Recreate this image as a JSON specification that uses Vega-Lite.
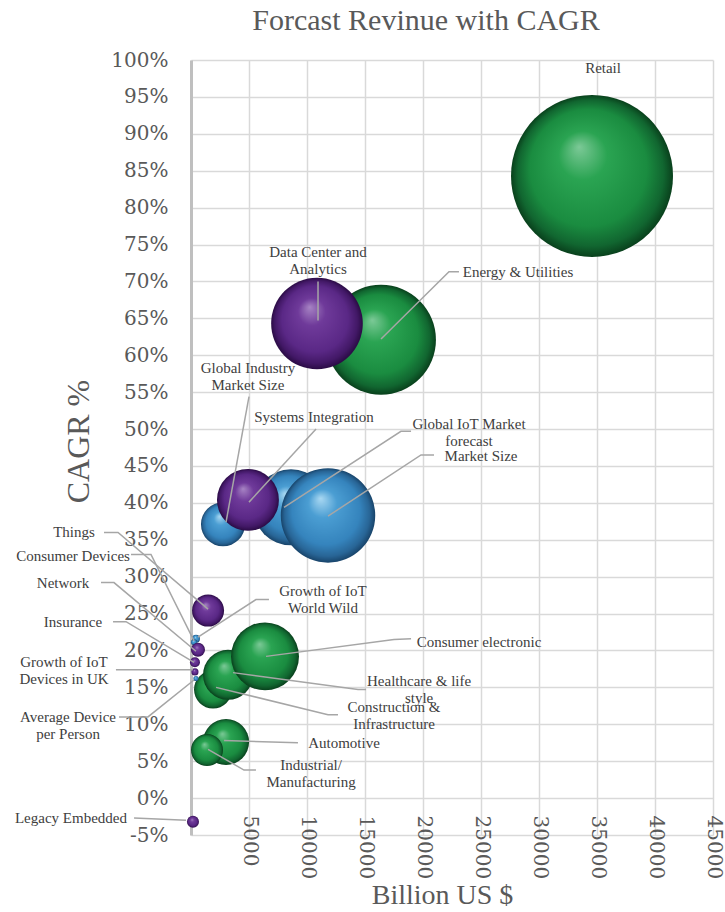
{
  "$schema": "https://vega.github.io/schema/vega-lite/v6.json",
  "width": 522,
  "height": 775,
  "autosize": "none",
  "padding": {"left": 191, "top": 60, "right": 12, "bottom": 77},
  "background": "white",
  "title": {"text": "Forcast Revinue with CAGR", "font": "Liberation Serif", "fontSize": 30, "fontWeight": "normal", "color": "#595959", "anchor": "middle", "dx": -26, "offset": 14},
  "config": {"view": {"stroke": null}},
  "datasets": {
    "bubbles": [
      {"name": "Retail", "group": "green", "x": 34570, "y": 84.3, "v": 100},
      {"name": "Energy & Utilities", "group": "green", "x": 16380, "y": 62.1, "v": 46},
      {"name": "Construction & Infrastructure", "group": "green", "x": 1900, "y": 14.7, "v": 5.5},
      {"name": "Healthcare & life style", "group": "green", "x": 3190, "y": 16.7, "v": 9.5},
      {"name": "Consumer electronic", "group": "green", "x": 6380, "y": 19.2, "v": 17.6},
      {"name": "Automotive", "group": "green", "x": 3020, "y": 7.6, "v": 8.1},
      {"name": "Industrial/Manufacturing", "group": "green", "x": 1380, "y": 6.5, "v": 3.9},
      {"name": "Global Industry Market Size", "group": "blue", "x": 2760, "y": 37.1, "v": 7.4},
      {"name": "Global IoT Market forecast", "group": "blue", "x": 8620, "y": 39.4, "v": 22},
      {"name": "Market Size", "group": "blue", "x": 11810, "y": 38.3, "v": 34},
      {"name": "Growth of IoT World Wild", "group": "blue", "x": 430, "y": 21.6, "v": 0.24},
      {"name": "Consumer Devices", "group": "blue", "x": 260, "y": 21.1, "v": 0.14},
      {"name": "Average Device per Person", "group": "blue", "x": 430, "y": 16.2, "v": 0.1},
      {"name": "Data Center and Analytics", "group": "purple", "x": 10860, "y": 64.3, "v": 32},
      {"name": "Systems Integration", "group": "purple", "x": 4910, "y": 40.4, "v": 14.6},
      {"name": "Things", "group": "purple", "x": 1470, "y": 25.4, "v": 3.9},
      {"name": "Network", "group": "purple", "x": 600, "y": 20.1, "v": 0.75},
      {"name": "Insurance", "group": "purple", "x": 340, "y": 18.4, "v": 0.38},
      {"name": "Growth of IoT Devices in UK", "group": "purple", "x": 340, "y": 17.1, "v": 0.19},
      {"name": "Legacy Embedded", "group": "purple", "x": 170, "y": -3.2, "v": 0.55}
    ],
    "labels": [
      {"text": "Retail", "x": 35520, "y": 98.9},
      {"text": "Data Center and\nAnalytics", "x": 10950, "y": 73.95},
      {"text": "Energy & Utilities", "x": 28190, "y": 71.3},
      {"text": "Global Industry\nMarket Size", "x": 4910, "y": 58.25},
      {"text": "Systems Integration", "x": 10600, "y": 51.6},
      {"text": "Global IoT Market\nforecast", "x": 23970, "y": 50.65},
      {"text": "Market Size", "x": 25000, "y": 46.3},
      {"text": "Growth of IoT\nWorld Wild", "x": 11380, "y": 28.05},
      {"text": "Consumer electronic", "x": 24830, "y": 21.2},
      {"text": "Healthcare & life\nstyle", "x": 19660, "y": 15.85},
      {"text": "Construction &\nInfrastructure", "x": 17500, "y": 12.35},
      {"text": "Automotive", "x": 13190, "y": 7.5},
      {"text": "Industrial/\nManufacturing", "x": 10350, "y": 4.55},
      {"text": "Things", "x": -10090, "y": 36.0},
      {"text": "Consumer Devices", "x": -10170, "y": 32.8},
      {"text": "Network", "x": -11030, "y": 29.2},
      {"text": "Insurance", "x": -10170, "y": 23.9},
      {"text": "Growth of IoT\nDevices in UK", "x": -10950, "y": 18.45},
      {"text": "Average Device\nper Person", "x": -10600, "y": 11.05},
      {"text": "Legacy Embedded", "x": -10350, "y": -2.7}
    ],
    "leaders": [
      {"id": "DC", "seq": 1, "x": 10950, "y": 70.0}, {"id": "DC", "seq": 2, "x": 10950, "y": 64.7},
      {"id": "EU", "seq": 1, "x": 23100, "y": 71.3}, {"id": "EU", "seq": 2, "x": 22240, "y": 71.3}, {"id": "EU", "seq": 3, "x": 16380, "y": 62.2},
      {"id": "GI", "seq": 1, "x": 5000, "y": 54.4}, {"id": "GI", "seq": 2, "x": 3020, "y": 37.4},
      {"id": "SI", "seq": 1, "x": 10780, "y": 50.0}, {"id": "SI", "seq": 2, "x": 5000, "y": 40.1},
      {"id": "GF", "seq": 1, "x": 18970, "y": 49.7}, {"id": "GF", "seq": 2, "x": 18100, "y": 49.7}, {"id": "GF", "seq": 3, "x": 8020, "y": 39.4},
      {"id": "MS", "seq": 1, "x": 20950, "y": 46.5}, {"id": "MS", "seq": 2, "x": 19830, "y": 46.5}, {"id": "MS", "seq": 3, "x": 11810, "y": 38.2},
      {"id": "GW", "seq": 1, "x": 6720, "y": 26.9}, {"id": "GW", "seq": 2, "x": 5600, "y": 26.9}, {"id": "GW", "seq": 3, "x": 600, "y": 21.8},
      {"id": "CE", "seq": 1, "x": 18970, "y": 21.6}, {"id": "CE", "seq": 2, "x": 17500, "y": 21.5}, {"id": "CE", "seq": 3, "x": 6470, "y": 19.2},
      {"id": "HC", "seq": 1, "x": 15090, "y": 14.7}, {"id": "HC", "seq": 2, "x": 14400, "y": 14.7}, {"id": "HC", "seq": 3, "x": 3620, "y": 17.0},
      {"id": "CI", "seq": 1, "x": 12670, "y": 11.3}, {"id": "CI", "seq": 2, "x": 11810, "y": 11.3}, {"id": "CI", "seq": 3, "x": 2160, "y": 15.0},
      {"id": "AU", "seq": 1, "x": 9220, "y": 7.5}, {"id": "AU", "seq": 2, "x": 2850, "y": 7.8},
      {"id": "IM", "seq": 1, "x": 5600, "y": 3.8}, {"id": "IM", "seq": 2, "x": 4570, "y": 3.8}, {"id": "IM", "seq": 3, "x": 1470, "y": 6.6},
      {"id": "TH", "seq": 1, "x": -7500, "y": 36.0}, {"id": "TH", "seq": 2, "x": -6290, "y": 36.0}, {"id": "TH", "seq": 3, "x": 1470, "y": 25.6},
      {"id": "CD", "seq": 1, "x": -5170, "y": 33.0}, {"id": "CD", "seq": 2, "x": -3450, "y": 33.0}, {"id": "CD", "seq": 3, "x": 260, "y": 21.3},
      {"id": "NW", "seq": 1, "x": -7760, "y": 29.2}, {"id": "NW", "seq": 2, "x": -6640, "y": 29.2}, {"id": "NW", "seq": 3, "x": 430, "y": 19.9},
      {"id": "IN", "seq": 1, "x": -6720, "y": 23.9}, {"id": "IN", "seq": 2, "x": -5600, "y": 23.9}, {"id": "IN", "seq": 3, "x": 260, "y": 18.4},
      {"id": "GU", "seq": 1, "x": -6470, "y": 17.4}, {"id": "GU", "seq": 2, "x": 170, "y": 17.4},
      {"id": "AD", "seq": 1, "x": -6210, "y": 11.0}, {"id": "AD", "seq": 2, "x": -3710, "y": 11.0}, {"id": "AD", "seq": 3, "x": 260, "y": 16.0},
      {"id": "LE", "seq": 1, "x": -4910, "y": -2.7}, {"id": "LE", "seq": 2, "x": -430, "y": -3.0}
    ]
  },
  "encoding": {
    "x": {
      "field": "x", "type": "quantitative",
      "scale": {"domain": [0, 45000], "nice": false, "zero": false},
      "axis": {
        "values": [0, 5000, 10000, 15000, 20000, 25000, 30000, 35000, 40000, 45000],
        "labelExpr": "datum.value == 0 ? '' : format(datum.value, 'd')",
        "labelAngle": 90, "labelFont": "DejaVu Serif", "labelFontSize": 20, "labelColor": "#595959",
        "labelPadding": 16, "labelFlush": false, "labelOverlap": false,
        "ticks": false, "domain": false,
        "grid": true, "gridColor": "#d9d9d9", "gridWidth": 1.5,
        "offset": -36,
        "title": "Billion US $", "titleFont": "Liberation Serif", "titleFontSize": 28, "titleFontWeight": "normal", "titleColor": "#595959",
        "titlePadding": 3, "titleX": 251
      }
    },
    "y": {
      "field": "y", "type": "quantitative",
      "scale": {"domain": [-5, 100], "nice": false, "zero": false},
      "axis": {
        "values": [-5, 0, 5, 10, 15, 20, 25, 30, 35, 40, 45, 50, 55, 60, 65, 70, 75, 80, 85, 90, 95, 100],
        "labelExpr": "datum.value + '%'",
        "labelFont": "DejaVu Serif", "labelFontSize": 20, "labelColor": "#595959",
        "labelPadding": 23, "labelFlush": false, "labelOverlap": false,
        "ticks": false, "domain": true, "domainColor": "#bfbfbf", "domainWidth": 3,
        "grid": true, "gridColor": "#d9d9d9", "gridWidth": 1.5,
        "title": "CAGR %", "titleFont": "Liberation Serif", "titleFontSize": 32, "titleFontWeight": "normal", "titleColor": "#595959",
        "titleX": -96, "titleY": 381
      }
    }
  },
  "layer": [
    {
      "data": {"name": "bubbles"},
      "transform": [{"filter": "datum.group == 'green'"}],
      "mark": {"type": "circle", "opacity": 1, "fill": {"gradient": "radial", "x1": 0.42, "y1": 0.32, "r1": 0, "x2": 0.5, "y2": 0.5, "r2": 0.5,
        "stops": [{"offset": 0, "color": "#7cc997"}, {"offset": 0.3, "color": "#2aa452"}, {"offset": 0.72, "color": "#1a8c40"}, {"offset": 0.9, "color": "#116630"}, {"offset": 1, "color": "#09401c"}]}},
      "encoding": {"size": {"field": "v", "type": "quantitative", "scale": {"type": "linear", "domain": [0, 100], "range": [0, 26244]}, "legend": null}}
    },
    {
      "data": {"name": "bubbles"},
      "transform": [{"filter": "datum.group == 'blue'"}],
      "mark": {"type": "circle", "opacity": 1, "fill": {"gradient": "radial", "x1": 0.42, "y1": 0.32, "r1": 0, "x2": 0.5, "y2": 0.5, "r2": 0.5,
        "stops": [{"offset": 0, "color": "#a9d8f2"}, {"offset": 0.3, "color": "#4b9ed3"}, {"offset": 0.72, "color": "#3584bd"}, {"offset": 0.9, "color": "#286596"}, {"offset": 1, "color": "#18446a"}]}},
      "encoding": {"size": {"field": "v", "type": "quantitative", "scale": {"type": "linear", "domain": [0, 100], "range": [0, 26244]}, "legend": null}}
    },
    {
      "data": {"name": "bubbles"},
      "transform": [{"filter": "datum.group == 'purple'"}],
      "mark": {"type": "circle", "opacity": 1, "fill": {"gradient": "radial", "x1": 0.42, "y1": 0.32, "r1": 0, "x2": 0.5, "y2": 0.5, "r2": 0.5,
        "stops": [{"offset": 0, "color": "#a784c4"}, {"offset": 0.3, "color": "#6f3a9a"}, {"offset": 0.72, "color": "#5a2886"}, {"offset": 0.9, "color": "#421866"}, {"offset": 1, "color": "#2a0b44"}]}},
      "encoding": {"size": {"field": "v", "type": "quantitative", "scale": {"type": "linear", "domain": [0, 100], "range": [0, 26244]}, "legend": null}}
    },
    {
      "data": {"name": "leaders"},
      "mark": {"type": "line", "color": "#a6a6a6", "strokeWidth": 1.5},
      "encoding": {"detail": {"field": "id"}, "order": {"field": "seq", "type": "quantitative"}}
    },
    {
      "data": {"name": "labels"},
      "mark": {"type": "text", "font": "Liberation Serif", "fontSize": 15, "color": "#404040", "align": "center", "baseline": "middle", "lineBreak": "\n", "lineHeight": 17},
      "encoding": {"text": {"field": "text"}}
    }
  ]
}
